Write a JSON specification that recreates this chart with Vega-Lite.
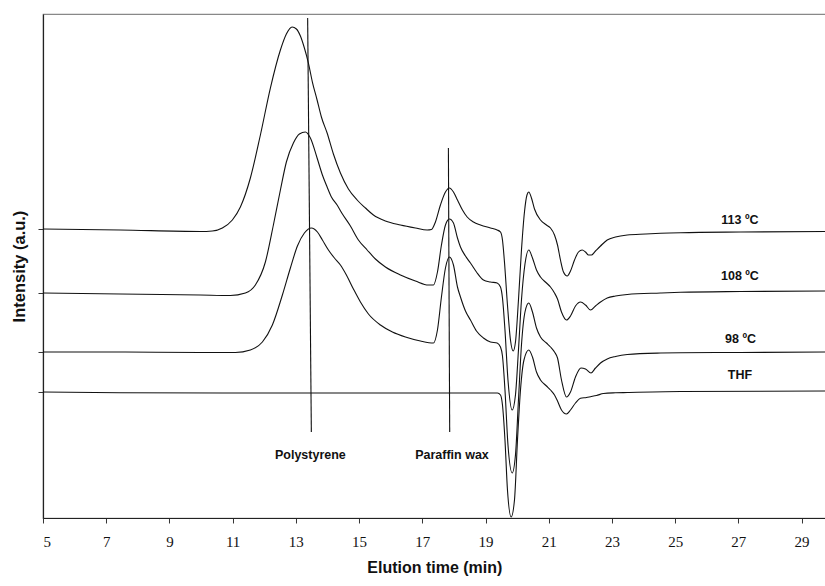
{
  "$schema": "https://vega.github.io/schema/vega-lite/v6.json",
  "width": 782.6,
  "height": 504,
  "autosize": {"type": "none"},
  "padding": {"left": 43, "top": 14, "right": 0, "bottom": 68},
  "config": {"view": {"stroke": "#888888", "strokeWidth": 1.2}},
  "datasets": {
    "curves": [
      {"series": "113", "t": 5.000, "v": 289}, {"series": "113", "t": 7.447, "v": 288}, {"series": "113", "t": 9.978, "v": 286.5}, {"series": "113", "t": 10.358, "v": 287}, {"series": "113", "t": 10.675, "v": 290}, {"series": "113", "t": 10.991, "v": 298}, {"series": "113", "t": 11.245, "v": 311}, {"series": "113", "t": 11.561, "v": 340}, {"series": "113", "t": 11.878, "v": 383}, {"series": "113", "t": 12.194, "v": 430}, {"series": "113", "t": 12.511, "v": 468}, {"series": "113", "t": 12.700, "v": 484}, {"series": "113", "t": 12.881, "v": 491}, {"series": "113", "t": 13.017, "v": 489}, {"series": "113", "t": 13.144, "v": 482}, {"series": "113", "t": 13.270, "v": 470}, {"series": "113", "t": 13.397, "v": 455}, {"series": "113", "t": 13.523, "v": 436}, {"series": "113", "t": 13.672, "v": 418}, {"series": "113", "t": 13.808, "v": 401}, {"series": "113", "t": 13.989, "v": 385}, {"series": "113", "t": 14.188, "v": 364}, {"series": "113", "t": 14.410, "v": 345}, {"series": "113", "t": 14.663, "v": 329}, {"series": "113", "t": 14.938, "v": 318}, {"series": "113", "t": 15.201, "v": 310}, {"series": "113", "t": 15.454, "v": 303}, {"series": "113", "t": 15.834, "v": 297}, {"series": "113", "t": 16.309, "v": 293}, {"series": "113", "t": 16.783, "v": 290}, {"series": "113", "t": 17.154, "v": 288}, {"series": "113", "t": 17.290, "v": 288.5}, {"series": "113", "t": 17.416, "v": 296}, {"series": "113", "t": 17.574, "v": 313}, {"series": "113", "t": 17.733, "v": 326}, {"series": "113", "t": 17.859, "v": 330}, {"series": "113", "t": 17.986, "v": 326}, {"series": "113", "t": 18.113, "v": 318}, {"series": "113", "t": 18.271, "v": 308}, {"series": "113", "t": 18.420, "v": 301}, {"series": "113", "t": 18.619, "v": 296}, {"series": "113", "t": 18.841, "v": 293}, {"series": "113", "t": 19.157, "v": 290}, {"series": "113", "t": 19.369, "v": 288}, {"series": "113", "t": 19.474, "v": 286}, {"series": "113", "t": 19.537, "v": 278}, {"series": "113", "t": 19.600, "v": 256}, {"series": "113", "t": 19.695, "v": 213}, {"series": "113", "t": 19.790, "v": 178}, {"series": "113", "t": 19.876, "v": 167}, {"series": "113", "t": 19.948, "v": 176}, {"series": "113", "t": 20.043, "v": 218}, {"series": "113", "t": 20.138, "v": 268}, {"series": "113", "t": 20.233, "v": 306}, {"series": "113", "t": 20.312, "v": 323}, {"series": "113", "t": 20.369, "v": 326}, {"series": "113", "t": 20.454, "v": 320}, {"series": "113", "t": 20.550, "v": 309}, {"series": "113", "t": 20.740, "v": 298}, {"series": "113", "t": 20.929, "v": 293}, {"series": "113", "t": 21.056, "v": 290}, {"series": "113", "t": 21.183, "v": 283}, {"series": "113", "t": 21.278, "v": 273}, {"series": "113", "t": 21.372, "v": 258}, {"series": "113", "t": 21.467, "v": 246}, {"series": "113", "t": 21.585, "v": 242}, {"series": "113", "t": 21.689, "v": 247}, {"series": "113", "t": 21.816, "v": 258}, {"series": "113", "t": 21.942, "v": 266}, {"series": "113", "t": 22.059, "v": 268}, {"series": "113", "t": 22.164, "v": 266}, {"series": "113", "t": 22.259, "v": 263}, {"series": "113", "t": 22.354, "v": 263}, {"series": "113", "t": 22.480, "v": 267}, {"series": "113", "t": 22.639, "v": 272}, {"series": "113", "t": 22.851, "v": 278}, {"series": "113", "t": 23.113, "v": 281}, {"series": "113", "t": 23.484, "v": 283}, {"series": "113", "t": 24.063, "v": 284}, {"series": "113", "t": 24.537, "v": 284.7}, {"series": "113", "t": 25.171, "v": 285.3}, {"series": "113", "t": 27.069, "v": 286}, {"series": "113", "t": 29.760, "v": 286.5},
      {"series": "108", "t": 5.000, "v": 225}, {"series": "108", "t": 7.447, "v": 224}, {"series": "108", "t": 9.978, "v": 223}, {"series": "108", "t": 10.928, "v": 222.5}, {"series": "108", "t": 11.403, "v": 225}, {"series": "108", "t": 11.719, "v": 233}, {"series": "108", "t": 12.036, "v": 256}, {"series": "108", "t": 12.289, "v": 293}, {"series": "108", "t": 12.511, "v": 328}, {"series": "108", "t": 12.700, "v": 356}, {"series": "108", "t": 12.922, "v": 375}, {"series": "108", "t": 13.112, "v": 384}, {"series": "108", "t": 13.302, "v": 386}, {"series": "108", "t": 13.460, "v": 380}, {"series": "108", "t": 13.672, "v": 360}, {"series": "108", "t": 13.840, "v": 343}, {"series": "108", "t": 13.989, "v": 331}, {"series": "108", "t": 14.125, "v": 321}, {"series": "108", "t": 14.305, "v": 313}, {"series": "108", "t": 14.473, "v": 304}, {"series": "108", "t": 14.726, "v": 292}, {"series": "108", "t": 14.979, "v": 278}, {"series": "108", "t": 15.255, "v": 268}, {"series": "108", "t": 15.517, "v": 259}, {"series": "108", "t": 15.834, "v": 251}, {"series": "108", "t": 16.309, "v": 243}, {"series": "108", "t": 16.783, "v": 237}, {"series": "108", "t": 17.195, "v": 233}, {"series": "108", "t": 17.353, "v": 233}, {"series": "108", "t": 17.480, "v": 246}, {"series": "108", "t": 17.606, "v": 273}, {"series": "108", "t": 17.733, "v": 293}, {"series": "108", "t": 17.859, "v": 299}, {"series": "108", "t": 17.986, "v": 295}, {"series": "108", "t": 18.113, "v": 280}, {"series": "108", "t": 18.208, "v": 271}, {"series": "108", "t": 18.366, "v": 262}, {"series": "108", "t": 18.524, "v": 255}, {"series": "108", "t": 18.714, "v": 246}, {"series": "108", "t": 18.935, "v": 238}, {"series": "108", "t": 19.157, "v": 236}, {"series": "108", "t": 19.369, "v": 235}, {"series": "108", "t": 19.474, "v": 231}, {"series": "108", "t": 19.537, "v": 220}, {"series": "108", "t": 19.616, "v": 188}, {"series": "108", "t": 19.711, "v": 138}, {"series": "108", "t": 19.844, "v": 108}, {"series": "108", "t": 19.948, "v": 123}, {"series": "108", "t": 20.043, "v": 168}, {"series": "108", "t": 20.138, "v": 218}, {"series": "108", "t": 20.249, "v": 254}, {"series": "108", "t": 20.369, "v": 268}, {"series": "108", "t": 20.486, "v": 260}, {"series": "108", "t": 20.613, "v": 248}, {"series": "108", "t": 20.740, "v": 241}, {"series": "108", "t": 20.929, "v": 235}, {"series": "108", "t": 21.056, "v": 231}, {"series": "108", "t": 21.183, "v": 225}, {"series": "108", "t": 21.278, "v": 219}, {"series": "108", "t": 21.404, "v": 206}, {"series": "108", "t": 21.562, "v": 198}, {"series": "108", "t": 21.689, "v": 202}, {"series": "108", "t": 21.847, "v": 212}, {"series": "108", "t": 22.006, "v": 216}, {"series": "108", "t": 22.164, "v": 213}, {"series": "108", "t": 22.322, "v": 208}, {"series": "108", "t": 22.480, "v": 212}, {"series": "108", "t": 22.639, "v": 216}, {"series": "108", "t": 22.851, "v": 220}, {"series": "108", "t": 23.113, "v": 222}, {"series": "108", "t": 23.484, "v": 223.5}, {"series": "108", "t": 24.537, "v": 225}, {"series": "108", "t": 25.171, "v": 225.7}, {"series": "108", "t": 27.069, "v": 226.5}, {"series": "108", "t": 29.760, "v": 227},
      {"series": "98", "t": 5.000, "v": 166}, {"series": "98", "t": 7.447, "v": 166}, {"series": "98", "t": 9.978, "v": 165.5}, {"series": "98", "t": 11.086, "v": 165.5}, {"series": "98", "t": 11.561, "v": 168}, {"series": "98", "t": 11.941, "v": 176}, {"series": "98", "t": 12.257, "v": 193}, {"series": "98", "t": 12.574, "v": 223}, {"series": "98", "t": 12.827, "v": 250}, {"series": "98", "t": 13.049, "v": 272}, {"series": "98", "t": 13.270, "v": 285}, {"series": "98", "t": 13.492, "v": 290}, {"series": "98", "t": 13.682, "v": 286}, {"series": "98", "t": 13.840, "v": 278}, {"series": "98", "t": 14.030, "v": 268}, {"series": "98", "t": 14.220, "v": 260}, {"series": "98", "t": 14.410, "v": 253}, {"series": "98", "t": 14.599, "v": 243}, {"series": "98", "t": 14.821, "v": 229}, {"series": "98", "t": 15.043, "v": 216}, {"series": "98", "t": 15.296, "v": 204}, {"series": "98", "t": 15.676, "v": 193}, {"series": "98", "t": 16.055, "v": 186}, {"series": "98", "t": 16.467, "v": 181}, {"series": "98", "t": 16.942, "v": 177}, {"series": "98", "t": 17.353, "v": 175}, {"series": "98", "t": 17.480, "v": 188}, {"series": "98", "t": 17.606, "v": 221}, {"series": "98", "t": 17.733, "v": 250}, {"series": "98", "t": 17.859, "v": 261}, {"series": "98", "t": 17.986, "v": 253}, {"series": "98", "t": 18.113, "v": 231}, {"series": "98", "t": 18.208, "v": 221}, {"series": "98", "t": 18.366, "v": 207}, {"series": "98", "t": 18.524, "v": 198}, {"series": "98", "t": 18.714, "v": 187}, {"series": "98", "t": 18.935, "v": 180}, {"series": "98", "t": 19.157, "v": 176}, {"series": "98", "t": 19.369, "v": 175}, {"series": "98", "t": 19.474, "v": 171}, {"series": "98", "t": 19.537, "v": 162}, {"series": "98", "t": 19.616, "v": 128}, {"series": "98", "t": 19.711, "v": 73}, {"series": "98", "t": 19.844, "v": 45}, {"series": "98", "t": 19.948, "v": 63}, {"series": "98", "t": 20.043, "v": 118}, {"series": "98", "t": 20.138, "v": 173}, {"series": "98", "t": 20.249, "v": 206}, {"series": "98", "t": 20.369, "v": 215}, {"series": "98", "t": 20.486, "v": 206}, {"series": "98", "t": 20.613, "v": 190}, {"series": "98", "t": 20.740, "v": 181}, {"series": "98", "t": 20.929, "v": 175}, {"series": "98", "t": 21.056, "v": 171}, {"series": "98", "t": 21.183, "v": 166}, {"series": "98", "t": 21.278, "v": 160}, {"series": "98", "t": 21.404, "v": 138}, {"series": "98", "t": 21.562, "v": 121}, {"series": "98", "t": 21.689, "v": 126}, {"series": "98", "t": 21.847, "v": 141}, {"series": "98", "t": 22.021, "v": 150}, {"series": "98", "t": 22.164, "v": 149}, {"series": "98", "t": 22.338, "v": 145}, {"series": "98", "t": 22.480, "v": 150}, {"series": "98", "t": 22.639, "v": 155}, {"series": "98", "t": 22.851, "v": 159}, {"series": "98", "t": 23.113, "v": 161.5}, {"series": "98", "t": 23.484, "v": 163.5}, {"series": "98", "t": 24.537, "v": 165}, {"series": "98", "t": 25.171, "v": 165.3}, {"series": "98", "t": 27.069, "v": 165.5}, {"series": "98", "t": 29.760, "v": 166},
      {"series": "THF", "t": 5.000, "v": 126}, {"series": "THF", "t": 7.447, "v": 125.3}, {"series": "THF", "t": 13.144, "v": 125}, {"series": "THF", "t": 18.841, "v": 125}, {"series": "THF", "t": 19.379, "v": 125}, {"series": "THF", "t": 19.474, "v": 123}, {"series": "THF", "t": 19.537, "v": 113}, {"series": "THF", "t": 19.616, "v": 78}, {"series": "THF", "t": 19.695, "v": 28}, {"series": "THF", "t": 19.812, "v": 1}, {"series": "THF", "t": 19.917, "v": 18}, {"series": "THF", "t": 20.012, "v": 78}, {"series": "THF", "t": 20.107, "v": 128}, {"series": "THF", "t": 20.217, "v": 158}, {"series": "THF", "t": 20.369, "v": 168}, {"series": "THF", "t": 20.486, "v": 161}, {"series": "THF", "t": 20.613, "v": 146}, {"series": "THF", "t": 20.740, "v": 138}, {"series": "THF", "t": 20.929, "v": 132}, {"series": "THF", "t": 21.056, "v": 128}, {"series": "THF", "t": 21.183, "v": 123}, {"series": "THF", "t": 21.278, "v": 117}, {"series": "THF", "t": 21.404, "v": 108}, {"series": "THF", "t": 21.562, "v": 104}, {"series": "THF", "t": 21.689, "v": 108}, {"series": "THF", "t": 21.847, "v": 115}, {"series": "THF", "t": 22.006, "v": 119.7}, {"series": "THF", "t": 22.195, "v": 120.5}, {"series": "THF", "t": 22.322, "v": 121.3}, {"series": "THF", "t": 22.512, "v": 122.5}, {"series": "THF", "t": 22.733, "v": 124.5}, {"series": "THF", "t": 23.113, "v": 125.2}, {"series": "THF", "t": 23.484, "v": 125.5}, {"series": "THF", "t": 25.171, "v": 126.5}, {"series": "THF", "t": 29.760, "v": 127}
    ],
    "markers": [
      {"name": "Polystyrene", "t": 13.373, "t2": 13.49, "v": 500, "v2": 86},
      {"name": "Paraffin wax", "t": 17.826, "t2": 17.867, "v": 370, "v2": 86}
    ],
    "labels": [
      {"text": "Polystyrene", "t": 13.46, "v": 63},
      {"text": "Paraffin wax", "t": 17.94, "v": 63},
      {"text": "113 ºC", "t": 27.05, "v": 298},
      {"text": "108 ºC", "t": 27.05, "v": 242},
      {"text": "98 ºC", "t": 27.07, "v": 179},
      {"text": "THF", "t": 27.05, "v": 143}
    ]
  },
  "layer": [
    {
      "data": {"name": "curves"},
      "mark": {"type": "line", "color": "#111111", "strokeWidth": 1.1, "interpolate": "monotone"},
      "encoding": {
        "x": {
          "field": "t", "type": "quantitative",
          "scale": {"domain": [5, 29.76], "nice": false, "zero": false},
          "axis": {
            "values": [5, 7, 9, 11, 13, 15, 17, 19, 21, 23, 25, 27, 29],
            "title": "Elution time (min)",
            "titleFont": "Liberation Sans", "titleFontSize": 16, "titleFontWeight": "bold", "titleColor": "#111111", "titlePadding": 10,
            "labelFont": "Liberation Serif", "labelFontSize": 15, "labelColor": "#111111", "labelPadding": 12,
            "tickSize": 5, "tickColor": "#333333", "domainColor": "#222222", "domainWidth": 1.2, "grid": false
          }
        },
        "y": {
          "field": "v", "type": "quantitative",
          "scale": {"domain": [0, 504], "nice": false, "zero": false},
          "axis": {
            "values": [126, 166, 225, 289], "labels": false,
            "title": "Intensity (a.u.)",
            "titleFont": "Liberation Sans", "titleFontSize": 16.5, "titleFontWeight": "bold", "titleColor": "#111111", "titlePadding": 10,
            "tickSize": 5, "tickColor": "#333333", "domainColor": "#222222", "domainWidth": 1.2, "grid": false
          }
        },
        "detail": {"field": "series", "type": "nominal"}
      }
    },
    {
      "data": {"name": "markers"},
      "mark": {"type": "rule", "color": "#111111", "strokeWidth": 1.1},
      "encoding": {
        "x": {"field": "t", "type": "quantitative"},
        "x2": {"field": "t2"},
        "y": {"field": "v", "type": "quantitative"},
        "y2": {"field": "v2"}
      }
    },
    {
      "data": {"name": "labels"},
      "mark": {"type": "text", "font": "Liberation Sans", "fontSize": 12.5, "fontWeight": "bold", "color": "#111111", "align": "center", "baseline": "middle"},
      "encoding": {
        "x": {"field": "t", "type": "quantitative"},
        "y": {"field": "v", "type": "quantitative"},
        "text": {"field": "text"}
      }
    }
  ]
}
